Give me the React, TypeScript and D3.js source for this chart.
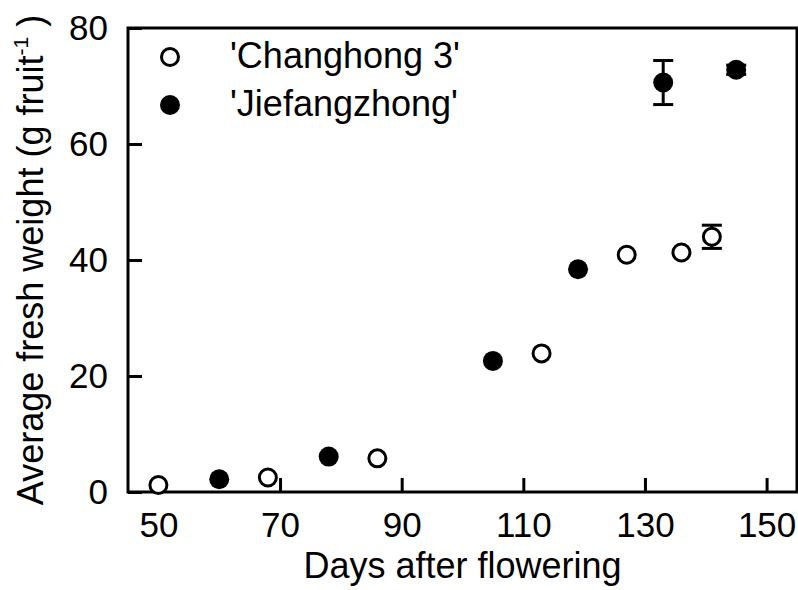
import { useEffect, useRef } from 'react'
import * as d3 from 'd3'

// Changhong 3 (open circles)
const chDays = [50, 68, 86, 113, 127, 136, 141]
const chWeight = [1.2, 2.5, 5.8, 23.9, 40.9, 41.3, 44.0]
const chErr = [0, 0, 0, 0, 0, 0, 2.0]

// Jiefangzhong (filled circles)
const jfDays = [60, 78, 105, 119, 133, 145]
const jfWeight = [2.2, 6.1, 22.6, 38.4, 70.6, 72.8]
const jfErr = [0, 0, 0, 0, 3.8, 0.8]

const xTicks = [50, 70, 90, 110, 130, 150]
const yTicks = [0, 20, 40, 60, 80]
const legendLabels = ["'Changhong 3'", "'Jiefangzhong'"]

const W = 798
const H = 590
const margin = { top: 28, right: 1, bottom: 98, left: 128 }
const FONT = "'Liberation Sans', Arial, sans-serif"

export default function App() {
  const ref = useRef<SVGSVGElement>(null)

  useEffect(() => {
    if (!ref.current) return
    const svg = d3.select(ref.current)
    svg.selectAll('*').remove()

    const inner = { w: W - margin.left - margin.right, h: H - margin.top - margin.bottom }
    const x = d3.scaleLinear().domain([45, 155]).range([0, inner.w])
    const y = d3.scaleLinear().domain([0, 80]).range([inner.h, 0])

    const g = svg.append('g').attr('transform', `translate(${margin.left},${margin.top})`)

    // Frame
    g.append('rect')
      .attr('width', inner.w)
      .attr('height', inner.h)
      .attr('fill', 'none')
      .attr('stroke', '#000')
      .attr('stroke-width', 3)

    // Y axis (ticks inward)
    g.append('g')
      .call(d3.axisLeft(y).tickValues(yTicks).tickSize(-14).tickPadding(20).tickFormat(d3.format('d')))
      .call((sel) => sel.select('.domain').remove())
      .call((sel) => sel.selectAll('line').attr('stroke-width', 3))
      .call((sel) => sel.selectAll('text').attr('font-size', 35).attr('font-family', FONT).attr('fill', '#000'))

    // X axis (ticks inward)
    g.append('g')
      .attr('transform', `translate(0,${inner.h})`)
      .call(d3.axisBottom(x).tickValues(xTicks).tickSize(-14).tickPadding(20).tickFormat(d3.format('d')))
      .call((sel) => sel.select('.domain').remove())
      .call((sel) => sel.selectAll('line').attr('stroke-width', 3))
      .call((sel) => sel.selectAll('text').attr('font-size', 35).attr('font-family', FONT).attr('fill', '#000'))

    const series = [
      { days: chDays, w: chWeight, err: chErr, filled: false },
      { days: jfDays, w: jfWeight, err: jfErr, filled: true },
    ]

    series.forEach((s) => {
      const pts = s.days.map((d, i) => ({ d, v: s.w[i], e: s.err[i] }))
      const eb = pts.filter((p) => p.e > 0)
      const eg = g.append('g').attr('stroke', '#000').attr('stroke-width', 3)
      eg.selectAll('.v').data(eb).join('line')
        .attr('x1', (p) => x(p.d)).attr('x2', (p) => x(p.d))
        .attr('y1', (p) => y(p.v - p.e)).attr('y2', (p) => y(p.v + p.e))
      eg.selectAll('.top').data(eb).join('line')
        .attr('x1', (p) => x(p.d) - 10).attr('x2', (p) => x(p.d) + 10)
        .attr('y1', (p) => y(p.v + p.e)).attr('y2', (p) => y(p.v + p.e))
      eg.selectAll('.bot').data(eb).join('line')
        .attr('x1', (p) => x(p.d) - 10).attr('x2', (p) => x(p.d) + 10)
        .attr('y1', (p) => y(p.v - p.e)).attr('y2', (p) => y(p.v - p.e))

      g.append('g').selectAll('circle').data(pts).join('circle')
        .attr('cx', (p) => x(p.d))
        .attr('cy', (p) => y(p.v))
        .attr('r', s.filled ? 10 : 8.5)
        .attr('fill', s.filled ? '#000' : '#fff')
        .attr('stroke', '#000')
        .attr('stroke-width', s.filled ? 0 : 3)
    })

    // Legend
    const lg = g.append('g')
    legendLabels.forEach((label, i) => {
      const cy = 29 + i * 48
      lg.append('circle')
        .attr('cx', 42).attr('cy', cy)
        .attr('r', i === 0 ? 8.5 : 10)
        .attr('fill', i === 0 ? '#fff' : '#000')
        .attr('stroke', '#000')
        .attr('stroke-width', i === 0 ? 3 : 0)
      lg.append('text')
        .attr('x', 102).attr('y', cy + 11)
        .attr('font-size', 36).attr('font-family', FONT)
        .text(label)
    })

    // X title
    svg.append('text')
      .attr('x', margin.left + inner.w / 2)
      .attr('y', 578)
      .attr('text-anchor', 'middle')
      .attr('font-size', 36).attr('font-family', FONT)
      .text('Days after flowering')

    // Y title
    const yt = svg.append('text')
      .attr('transform', `translate(43,${margin.top + inner.h / 2}) rotate(-90)`)
      .attr('text-anchor', 'middle')
      .attr('font-size', 36).attr('font-family', FONT)
    yt.append('tspan').text('Average fresh weight (g fruit')
    yt.append('tspan').attr('font-size', 21).attr('dy', -15).text('-1')
    yt.append('tspan').attr('dy', 15).text(' )')
  }, [])

  return (
    <svg
      ref={ref}
      width={W}
      height={H}
      style={{ position: 'absolute', left: 0, top: 0, display: 'block', background: '#fff' }}
    />
  )
}
